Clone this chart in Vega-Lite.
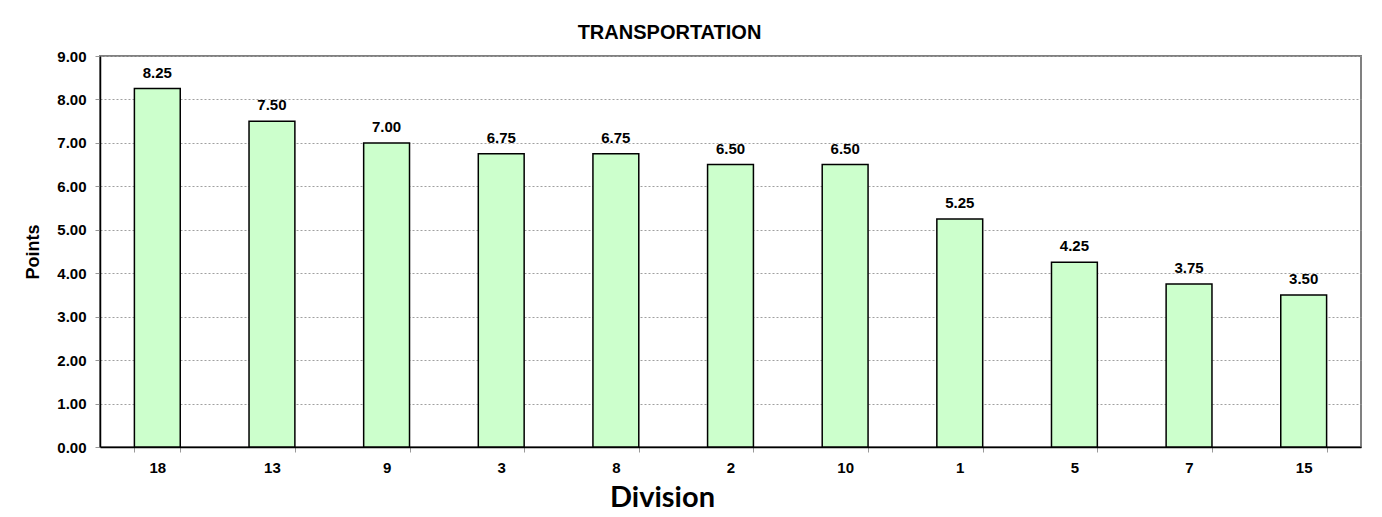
{
  "$schema": "https://vega.github.io/schema/vega-lite/v6.json",
  "width": 1261,
  "height": 391,
  "autosize": {"type": "none"},
  "padding": {"left": 100, "top": 56, "right": 21, "bottom": 70},
  "background": "white",
  "view": {"stroke": "#808080", "strokeWidth": 2},
  "title": {
    "text": "TRANSPORTATION",
    "font": "Liberation Sans",
    "fontSize": 20,
    "fontWeight": "bold",
    "color": "black",
    "anchor": "middle",
    "frame": "group",
    "dx": -61,
    "dy": 27,
    "offset": 17,
    "baseline": "alphabetic"
  },
  "data": {
    "values": [
      {"Division": "18", "Points": 8.25},
      {"Division": "13", "Points": 7.5},
      {"Division": "9", "Points": 7.0},
      {"Division": "3", "Points": 6.75},
      {"Division": "8", "Points": 6.75},
      {"Division": "2", "Points": 6.5},
      {"Division": "10", "Points": 6.5},
      {"Division": "1", "Points": 5.25},
      {"Division": "5", "Points": 4.25},
      {"Division": "7", "Points": 3.75},
      {"Division": "15", "Points": 3.5}
    ]
  },
  "encoding": {
    "x": {
      "field": "Division",
      "type": "nominal",
      "sort": null,
      "scale": {"paddingInner": 0.6, "paddingOuter": 0.3},
      "axis": {
        "title": "Division",
        "labelAngle": 0,
        "labelFont": "Liberation Sans",
        "labelFontSize": 15,
        "labelFontWeight": "bold",
        "labelColor": "black",
        "labelPadding": 8,
        "tickBand": "extent",
        "tickColor": "#999999",
        "tickSize": 5,
        "domainColor": "black",
        "domainWidth": 1.5,
        "titleFont": "Lato",
        "titleFontSize": 29,
        "titleFontWeight": "bold",
        "titleColor": "black",
        "titleX": 562,
        "titleY": 59,
        "titleAlign": "center",
        "titleBaseline": "alphabetic"
      }
    },
    "y": {
      "field": "Points",
      "type": "quantitative",
      "scale": {"domain": [0, 9]},
      "axis": {
        "title": "Points",
        "values": [0, 1, 2, 3, 4, 5, 6, 7, 8, 9],
        "format": ".2f",
        "grid": true,
        "gridColor": "#a0a0a0",
        "gridDash": [2, 2],
        "gridWidth": 1,
        "labelFont": "Liberation Sans",
        "labelFontSize": 15,
        "labelFontWeight": "bold",
        "labelColor": "black",
        "labelPadding": 9,
        "tickColor": "#999999",
        "tickSize": 5,
        "domainColor": "black",
        "domainWidth": 1.5,
        "titleFont": "Liberation Sans",
        "titleFontSize": 18,
        "titleFontWeight": "bold",
        "titleColor": "black",
        "titlePadding": 14
      }
    }
  },
  "layer": [
    {"mark": {"type": "bar", "fill": "#ccffcc", "stroke": "black", "strokeWidth": 1.5}},
    {
      "mark": {"type": "text", "dy": -11, "baseline": "alphabetic", "font": "Liberation Sans", "fontSize": 15, "fontWeight": "bold", "color": "black"},
      "encoding": {"text": {"field": "Points", "type": "quantitative", "format": ".2f"}}
    }
  ]
}
